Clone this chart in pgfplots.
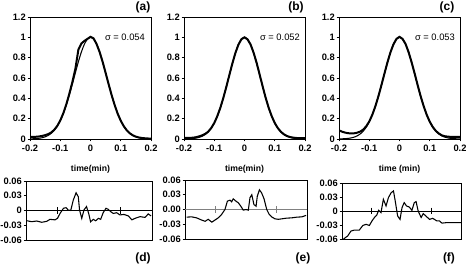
\documentclass[border=0pt]{standalone}
\usepackage{pgfplots}
\pgfplotsset{compat=1.18}
\usepackage{pgfplotstable}
\usepackage{fontspec}
\setmainfont{Liberation Sans}

\pgfplotstableread{
x fit data
-0.20 0.0010 0.020
-0.19 0.0021 0.020
-0.18 0.0039 0.022
-0.17 0.0070 0.025
-0.16 0.0124 0.030
-0.15 0.0211 0.038
-0.14 0.0347 0.048
-0.13 0.0551 0.064
-0.12 0.0847 0.090
-0.11 0.126 0.128
-0.10 0.180 0.182
-0.09 0.249 0.252
-0.08 0.334 0.340
-0.07 0.432 0.445
-0.06 0.539 0.56
-0.05 0.651 0.69
-0.04 0.760 0.88
-0.03 0.857 0.94
-0.02 0.934 0.965
-0.01 0.983 0.985
0.00 1.000 1.005
0.01 0.983 0.99
0.02 0.934 0.935
0.03 0.857 0.857
0.04 0.760 0.760
0.05 0.651 0.650
0.06 0.539 0.538
0.07 0.432 0.430
0.08 0.334 0.333
0.09 0.249 0.248
0.10 0.180 0.180
0.11 0.126 0.126
0.12 0.0847 0.085
0.13 0.0551 0.056
0.14 0.0347 0.036
0.15 0.0211 0.023
0.16 0.0124 0.015
0.17 0.0070 0.010
0.18 0.0039 0.007
0.19 0.0021 0.005
0.20 0.0010 0.004
}\tabA

\pgfplotstableread{
x fit data
-0.20 0.0006 0.010
-0.19 0.0013 0.010
-0.18 0.0025 0.011
-0.17 0.0048 0.013
-0.16 0.0088 0.018
-0.15 0.0156 0.026
-0.14 0.0267 0.036
-0.13 0.0439 0.050
-0.12 0.0698 0.072
-0.11 0.107 0.108
-0.10 0.157 0.157
-0.09 0.224 0.224
-0.08 0.306 0.306
-0.07 0.404 0.404
-0.06 0.514 0.514
-0.05 0.630 0.630
-0.04 0.744 0.744
-0.03 0.847 0.847
-0.02 0.929 0.929
-0.01 0.982 0.982
0.00 1.000 1.000
0.01 0.982 0.98
0.02 0.929 0.93
0.03 0.847 0.85
0.04 0.744 0.75
0.05 0.630 0.635
0.06 0.514 0.517
0.07 0.404 0.405
0.08 0.306 0.306
0.09 0.224 0.224
0.10 0.157 0.157
0.11 0.107 0.108
0.12 0.0698 0.072
0.13 0.0439 0.047
0.14 0.0267 0.030
0.15 0.0156 0.020
0.16 0.0088 0.014
0.17 0.0048 0.010
0.18 0.0025 0.009
0.19 0.0013 0.008
0.20 0.0006 0.008
}\tabB

\pgfplotstableread{
x fit data
-0.20 0.0008 0.085
-0.19 0.0016 0.072
-0.18 0.0031 0.063
-0.17 0.0058 0.057
-0.16 0.0105 0.055
-0.15 0.0182 0.056
-0.14 0.0305 0.062
-0.13 0.0494 0.073
-0.12 0.077 0.092
-0.11 0.116 0.125
-0.10 0.169 0.172
-0.09 0.237 0.238
-0.08 0.320 0.320
-0.07 0.418 0.418
-0.06 0.527 0.527
-0.05 0.641 0.641
-0.04 0.752 0.752
-0.03 0.852 0.852
-0.02 0.931 0.931
-0.01 0.982 0.985
0.00 1.000 1.005
0.01 0.982 0.985
0.02 0.931 0.935
0.03 0.852 0.855
0.04 0.752 0.755
0.05 0.641 0.645
0.06 0.527 0.530
0.07 0.418 0.420
0.08 0.320 0.322
0.09 0.237 0.238
0.10 0.169 0.170
0.11 0.116 0.118
0.12 0.077 0.080
0.13 0.0494 0.054
0.14 0.0305 0.036
0.15 0.0182 0.027
0.16 0.0105 0.023
0.17 0.0058 0.021
0.18 0.0031 0.020
0.19 0.0016 0.020
0.20 0.0008 0.020
}\tabC

\pgfplotstableread{
x r
-0.198 -0.0207
-0.182 -0.0228
-0.166 -0.0214
-0.150 -0.0240
-0.134 -0.0220
-0.124 -0.0180
-0.108 -0.0190
-0.100 -0.0160
-0.092 -0.0060
-0.081 0.0045
-0.073 0.0057
-0.066 0.0010
-0.058 0.0000
-0.050 0.0210
-0.041 0.0360
-0.034 0.0280
-0.030 0.0010
-0.023 -0.0160
-0.016 0.0010
-0.008 0.0080
-0.001 -0.0060
0.005 -0.0230
0.014 -0.0180
0.021 -0.0210
0.030 -0.0160
0.037 -0.0180
0.045 -0.0045
0.054 0.0045
0.061 0.0024
0.069 -0.0024
0.077 -0.0060
0.088 -0.0045
0.098 -0.0090
0.111 -0.0080
0.125 -0.0110
0.136 -0.0190
0.146 -0.0160
0.162 -0.0125
0.178 -0.0140
0.188 -0.0070
0.197 -0.0110
}\tabD

\pgfplotstableread{
x r
-0.195 -0.0155
-0.178 -0.0150
-0.162 -0.0170
-0.145 -0.0216
-0.134 -0.0240
-0.124 -0.0200
-0.112 -0.0257
-0.102 -0.0216
-0.091 -0.0170
-0.080 -0.0100
-0.069 0.0000
-0.061 0.0170
-0.052 0.0190
-0.047 0.0156
-0.042 0.0217
-0.033 0.0170
-0.025 0.0135
-0.017 0.0067
-0.009 -0.0013
0.000 0.0000
0.0076 -0.0013
0.013 0.0240
0.019 0.0300
0.026 0.0100
0.033 0.0067
0.037 0.0270
0.044 0.0400
0.051 0.0340
0.059 0.0220
0.068 0.0000
0.076 -0.0100
0.084 -0.0150
0.095 -0.0190
0.106 -0.0200
0.117 -0.0190
0.133 -0.0176
0.150 -0.0170
0.166 -0.0156
0.183 -0.0150
0.197 -0.0120
}\tabE

\pgfplotstableread{
x r
-0.195 -0.0600
-0.181 -0.0536
-0.170 -0.0430
-0.159 -0.0410
-0.142 -0.0410
-0.130 -0.0310
-0.119 -0.0286
-0.108 -0.0310
-0.099 -0.0210
-0.091 -0.0140
-0.083 -0.0086
-0.077 0.0014
-0.069 -0.0036
-0.061 0.0250
-0.052 0.0107
-0.044 0.0286
-0.035 0.0390
-0.027 0.0430
-0.021 0.0210
-0.013 -0.0107
-0.005 -0.0180
0.0017 0.0071
0.009 0.0180
0.017 0.0107
0.026 0.0086
0.035 0.0014
0.043 0.0180
0.049 0.0200
0.056 0.0000
0.066 -0.0140
0.073 -0.0057
0.082 -0.0107
0.094 -0.0180
0.105 -0.0157
0.118 -0.0210
0.127 -0.0210
0.136 -0.0260
0.150 -0.0250
0.172 -0.0250
0.200 -0.0250
}\tabF

\tikzset{
  plabel/.style={font=\fontsize{9}{10}\selectfont\bfseries},
  slabel/.style={font=\fontsize{7}{8}\selectfont},
}

\pgfplotsset{
  topax/.style={
    scale only axis, width=90.75pt, height=91.5pt, anchor=south west,
    xmin=-0.2, xmax=0.2, ymin=0, ymax=1.2,
    xtick={-0.2,-0.1,0,0.1,0.2}, xticklabels={-0.2,-0.1,0,0.1,0.2},
    ytick={0,0.2,0.4,0.6,0.8,1,1.2}, yticklabels={0,0.2,0.4,0.6,0.8,1,1.2},
    tick align=outside, major tick length=1.8pt, xtick pos=bottom, ytick pos=left,
    /pgf/number format/assume math mode=true,
    scaled ticks=false,
    ticklabel style={font=\fontsize{7}{8}\selectfont\bfseries, inner sep=1.2pt},
    xticklabel style={yshift=-1.5pt},
    axis line style={black, line width=0.7pt},
    tick style={black, line width=0.6pt},
    xlabel style={at={(axis description cs:0.5,0)}, anchor=center, yshift=-22.5pt, font=\fontsize{6.5}{7}\selectfont\bfseries},
    clip mode=individual,
  },
  botax/.style={
    scale only axis, width=94.5pt, height=44.25pt, anchor=south west,
    xmin=-0.2, xmax=0.2, ymin=-0.06, ymax=0.06,
    xtick=\empty,
    ytick={-0.06,-0.03,0,0.03,0.06},
    tick align=outside, major tick length=1.8pt, ytick pos=left,
    /pgf/number format/assume math mode=true,
    scaled ticks=false,
    ticklabel style={font=\fontsize{7}{8}\selectfont\bfseries, inner sep=1.2pt},
    axis line style={black, line width=0.7pt},
    tick style={black, line width=0.6pt},
    clip mode=individual,
  },
  datal/.style={black, line width=1.5pt, no marks},
  fitl/.style={black, line width=0.8pt, no marks, smooth},
  resl/.style={black, line width=0.8pt, no marks},
}

\begin{document}
\begin{tikzpicture}
\path[use as bounding box] (0,0) rectangle (349.5pt,199.5pt);

% (a)
\begin{axis}[topax, at={(22.5pt,95.25pt)}, xlabel={time(min)}]
\addplot[fitl] table[x=x,y=fit] {\tabA};
\addplot[datal] table[x=x,y=data] {\tabA};
\node[plabel] at (axis description cs:0.934,1.082) {(a)};
\node[slabel] at (axis description cs:0.785,0.836) {σ = 0.054};
\end{axis}

% (b)
\begin{axis}[topax, at={(138pt,95.25pt)}, xlabel={time(min)}]
\addplot[fitl] table[x=x,y=fit] {\tabB};
\addplot[datal] table[x=x,y=data] {\tabB};
\node[plabel] at (axis description cs:0.926,1.082) {(b)};
\node[slabel] at (axis description cs:0.793,0.836) {σ = 0.052};
\end{axis}

% (c)
\begin{axis}[topax, at={(254.25pt,95.25pt)}, xlabel={time (min)}]
\addplot[fitl] table[x=x,y=fit] {\tabC};
\addplot[datal] table[x=x,y=data] {\tabC};
\node[plabel] at (axis description cs:0.893,1.082) {(c)};
\node[slabel] at (axis description cs:0.793,0.836) {σ = 0.053};
\end{axis}

% (d)
\begin{axis}[botax, at={(19.5pt,19.5pt)}, width=94.5pt, height=44.25pt,
  yticklabels={-0.06,-0.03,0,0.03,0.06}]
\addplot[black, line width=0.7pt, no marks] coordinates {(-0.2,0) (0.2,0)};
\addplot[black, only marks, mark=|, mark size=2.5pt, mark options={line width=0.6pt}] coordinates {(-0.1,0) (0.1,0)};
\addplot[resl] table[x=x,y=r] {\tabD};
\node[plabel] at (axis description cs:0.929,-0.305) {(d)};
\end{axis}

% (e)
\begin{axis}[botax, at={(138.75pt,20.25pt)}, width=91.5pt, height=44.25pt,
  yticklabels={-0.06,-0.03,0.00,0.03,0.06}]
\addplot[gray, line width=0.5pt, no marks] coordinates {(-0.2,0) (0.2,0)};
\addplot[gray, only marks, mark=|, mark size=2.5pt, mark options={line width=0.5pt}] coordinates {(-0.1,0) (0.1,0)};
\addplot[resl] table[x=x,y=r] {\tabE};
\node[plabel] at (axis description cs:0.967,-0.322) {(e)};
\end{axis}

% (f)
\begin{axis}[botax, at={(256.5pt,20.25pt)}, width=89.25pt, height=42pt,
  yticklabels={-0.06,-0.03,0,0.03,0.06}]
\addplot[black, line width=0.7pt, no marks] coordinates {(-0.2,0) (0.2,0)};
\addplot[black, only marks, mark=|, mark size=2.5pt, mark options={line width=0.6pt}] coordinates {(-0.1,0) (0.1,0)};
\addplot[resl] table[x=x,y=r] {\tabF};
\node[plabel] at (axis description cs:0.899,-0.339) {(f)};
\end{axis}
\end{tikzpicture}
\end{document}
